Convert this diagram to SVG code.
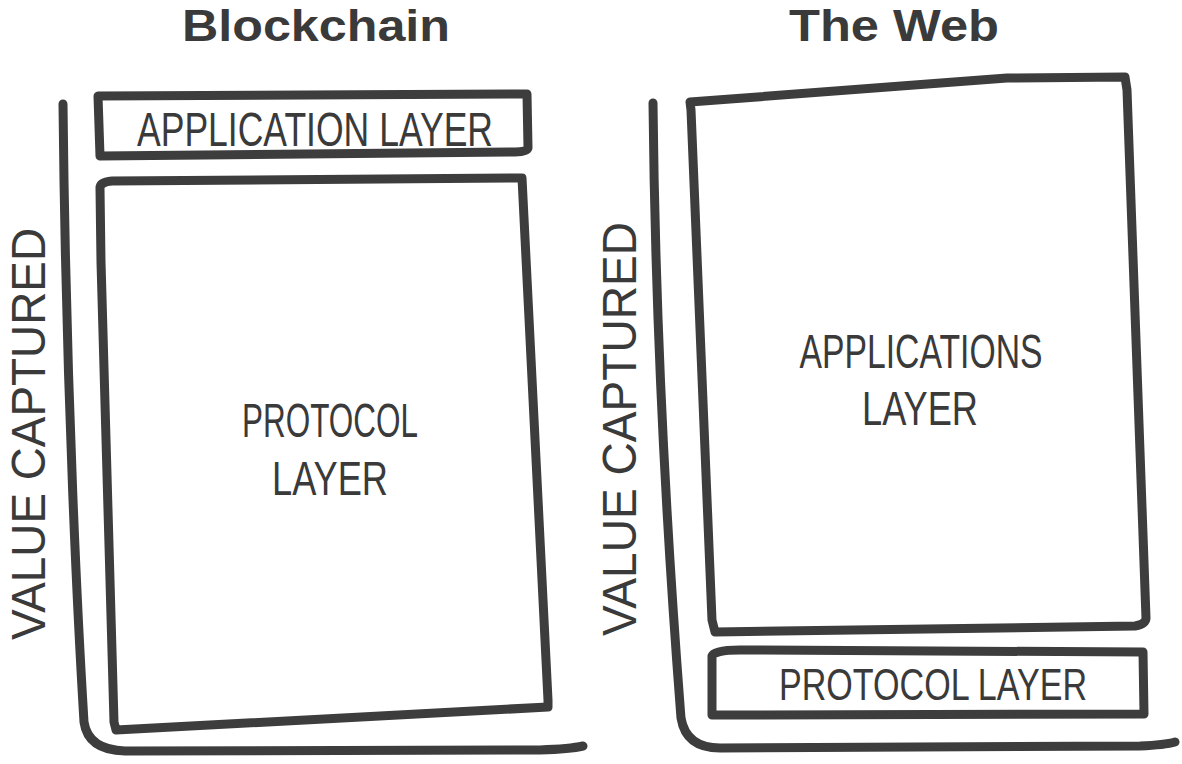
<svg xmlns="http://www.w3.org/2000/svg" width="1182" height="764" viewBox="0 0 1182 764">
<style>
.ln{fill:none;stroke:#3d3d3d;stroke-width:9;stroke-linecap:round;stroke-linejoin:round}
.bx{fill:#fff;stroke:#3d3d3d;stroke-width:9;stroke-linecap:round;stroke-linejoin:round}
.hw{font-family:"Liberation Sans",Arial,sans-serif;font-size:48px;fill:#3a3a3a;text-anchor:middle}
.tt{font-family:"Liberation Sans",Arial,sans-serif;font-weight:bold;font-size:44px;fill:#3a3a3a;text-anchor:middle}
</style>
<rect width="1182" height="764" fill="#fff"/>
<g id="titles">
<text class="tt" x="316" y="41" textLength="268" lengthAdjust="spacingAndGlyphs">Blockchain</text>
<text class="tt" x="894" y="41" textLength="210" lengthAdjust="spacingAndGlyphs">The Web</text>
</g>
<g id="connectors">
<path class="ln" d="M63,104 C66,400 79,640 84,722 Q88,750 125,751 L540,750 Q570,749 583,746"/>
<path class="ln" d="M653,103 C656,400 675,640 681,718 Q686,748 720,748 L1140,746 Q1165,745 1175,742"/>
</g>
<g id="bc-app">
<path class="bx" d="M98,96 L527,94 L528,148 Q527,152 515,152 L100,156 Z"/>
<text class="hw" x="315" y="146" textLength="356" lengthAdjust="spacingAndGlyphs">APPLICATION LAYER</text>
</g>
<g id="bc-protocol">
<path class="bx" d="M100,188 Q100,182 112,181 L522,178 L548,700 L548,707 L116,730 L114,722 L101,262 Z"/>
<text class="hw" x="330" y="437" textLength="176" lengthAdjust="spacingAndGlyphs">PROTOCOL</text>
<text class="hw" x="330" y="495" textLength="116" lengthAdjust="spacingAndGlyphs">LAYER</text>
</g>
<g id="bc-axis-label">
<text class="hw" transform="translate(45,434) rotate(-90)" textLength="412" lengthAdjust="spacingAndGlyphs">VALUE CAPTURED</text>
</g>
<g id="web-app">
<path class="bx" d="M690,102 L1007,78 L1125,77 L1127,90 L1146,618 Q1146,624 1135,626 L715,632 L712,620 L691,110 Z"/>
<text class="hw" x="921" y="368" textLength="243" lengthAdjust="spacingAndGlyphs">APPLICATIONS</text>
<text class="hw" x="920" y="425" textLength="116" lengthAdjust="spacingAndGlyphs">LAYER</text>
</g>
<g id="web-protocol">
<path class="bx" d="M712,656 Q714,650 740,650 L1143,652 L1144,714 L712,715 Z"/>
<text class="hw" x="933" y="700" style="font-size:44px" textLength="308" lengthAdjust="spacingAndGlyphs">PROTOCOL LAYER</text>
</g>
<g id="web-axis-label">
<text class="hw" transform="translate(636,429) rotate(-90)" textLength="414" lengthAdjust="spacingAndGlyphs">VALUE CAPTURED</text>
</g>
</svg>
